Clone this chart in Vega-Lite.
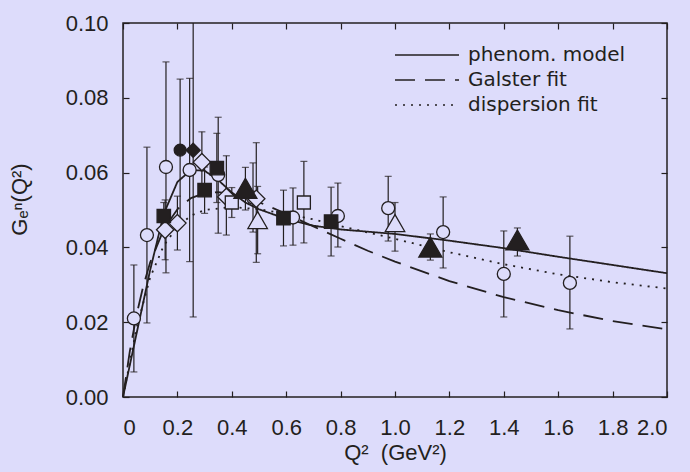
{
  "$schema": "https://vega.github.io/schema/vega-lite/v6.json",
  "width": 544,
  "height": 374,
  "autosize": "none",
  "padding": {"left": 123, "top": 23, "right": 23, "bottom": 75},
  "background": "#dddcfb",
  "config": {
    "view": {"stroke": "#231f20", "strokeWidth": 1.5, "fill": "#dddcfb"},
    "axis": {
      "domain": false,
      "grid": false,
      "tickColor": "#231f20",
      "tickWidth": 1.2,
      "tickSize": -6,
      "labelFont": "Liberation Sans",
      "labelFontSize": 22,
      "labelColor": "#231f20",
      "titleFont": "Liberation Sans",
      "titleFontSize": 22,
      "titleFontWeight": "normal",
      "titleColor": "#231f20"
    }
  },
  "datasets": {
    "curves": [
      {"q2": 0, "g": 0, "s": "phenom. model"},
      {"q2": 0.05, "g": 0.017, "s": "phenom. model"},
      {"q2": 0.1, "g": 0.034, "s": "phenom. model"},
      {"q2": 0.15, "g": 0.049, "s": "phenom. model"},
      {"q2": 0.2, "g": 0.0575, "s": "phenom. model"},
      {"q2": 0.25, "g": 0.0607, "s": "phenom. model"},
      {"q2": 0.3, "g": 0.0605, "s": "phenom. model"},
      {"q2": 0.35, "g": 0.058, "s": "phenom. model"},
      {"q2": 0.4, "g": 0.0547, "s": "phenom. model"},
      {"q2": 0.45, "g": 0.052, "s": "phenom. model"},
      {"q2": 0.5, "g": 0.0502, "s": "phenom. model"},
      {"q2": 0.6, "g": 0.0476, "s": "phenom. model"},
      {"q2": 0.7, "g": 0.0458, "s": "phenom. model"},
      {"q2": 0.8, "g": 0.0448, "s": "phenom. model"},
      {"q2": 0.9, "g": 0.0442, "s": "phenom. model"},
      {"q2": 1.0, "g": 0.0436, "s": "phenom. model"},
      {"q2": 1.2, "g": 0.0418, "s": "phenom. model"},
      {"q2": 1.4, "g": 0.0398, "s": "phenom. model"},
      {"q2": 1.6, "g": 0.0375, "s": "phenom. model"},
      {"q2": 1.8, "g": 0.0353, "s": "phenom. model"},
      {"q2": 2.0, "g": 0.0331, "s": "phenom. model"},
      {"q2": 0, "g": 0, "s": "Galster fit"},
      {"q2": 0.025, "g": 0.0122, "s": "Galster fit"},
      {"q2": 0.05, "g": 0.022, "s": "Galster fit"},
      {"q2": 0.075, "g": 0.0298, "s": "Galster fit"},
      {"q2": 0.1, "g": 0.036, "s": "Galster fit"},
      {"q2": 0.15, "g": 0.0449, "s": "Galster fit"},
      {"q2": 0.2, "g": 0.0502, "s": "Galster fit"},
      {"q2": 0.25, "g": 0.0532, "s": "Galster fit"},
      {"q2": 0.3, "g": 0.0545, "s": "Galster fit"},
      {"q2": 0.35, "g": 0.0548, "s": "Galster fit"},
      {"q2": 0.4, "g": 0.0543, "s": "Galster fit"},
      {"q2": 0.5, "g": 0.0521, "s": "Galster fit"},
      {"q2": 0.6, "g": 0.049, "s": "Galster fit"},
      {"q2": 0.7, "g": 0.0456, "s": "Galster fit"},
      {"q2": 0.8, "g": 0.0423, "s": "Galster fit"},
      {"q2": 0.9, "g": 0.0391, "s": "Galster fit"},
      {"q2": 1.0, "g": 0.0362, "s": "Galster fit"},
      {"q2": 1.2, "g": 0.031, "s": "Galster fit"},
      {"q2": 1.4, "g": 0.0267, "s": "Galster fit"},
      {"q2": 1.6, "g": 0.0232, "s": "Galster fit"},
      {"q2": 1.8, "g": 0.0203, "s": "Galster fit"},
      {"q2": 2.0, "g": 0.0181, "s": "Galster fit"},
      {"q2": 0, "g": 0, "s": "dispersion fit"},
      {"q2": 0.05, "g": 0.0185, "s": "dispersion fit"},
      {"q2": 0.1, "g": 0.032, "s": "dispersion fit"},
      {"q2": 0.15, "g": 0.0405, "s": "dispersion fit"},
      {"q2": 0.2, "g": 0.0455, "s": "dispersion fit"},
      {"q2": 0.25, "g": 0.0485, "s": "dispersion fit"},
      {"q2": 0.3, "g": 0.0500, "s": "dispersion fit"},
      {"q2": 0.4, "g": 0.0508, "s": "dispersion fit"},
      {"q2": 0.5, "g": 0.0502, "s": "dispersion fit"},
      {"q2": 0.6, "g": 0.049, "s": "dispersion fit"},
      {"q2": 0.7, "g": 0.0475, "s": "dispersion fit"},
      {"q2": 0.8, "g": 0.0457, "s": "dispersion fit"},
      {"q2": 1.0, "g": 0.0423, "s": "dispersion fit"},
      {"q2": 1.2, "g": 0.0387, "s": "dispersion fit"},
      {"q2": 1.4, "g": 0.0355, "s": "dispersion fit"},
      {"q2": 1.6, "g": 0.0328, "s": "dispersion fit"},
      {"q2": 1.8, "g": 0.0307, "s": "dispersion fit"},
      {"q2": 2.0, "g": 0.029, "s": "dispersion fit"}
    ],
    "points": [
      {"q2": 0.04, "g": 0.021, "lo": 0.0067, "hi": 0.0353, "m": "oc"},
      {"q2": 0.088, "g": 0.0433, "lo": 0.0198, "hi": 0.0668, "m": "oc"},
      {"q2": 0.158, "g": 0.0615, "lo": 0.0332, "hi": 0.0896, "m": "oc"},
      {"q2": 0.245, "g": 0.0607, "lo": 0.0362, "hi": 0.0852, "m": "oc"},
      {"q2": 0.35, "g": 0.0594, "lo": 0.0438, "hi": 0.0748, "m": "oc"},
      {"q2": 0.478, "g": 0.0533, "lo": 0.0441, "hi": 0.0626, "m": "oc"},
      {"q2": 0.625, "g": 0.048, "lo": 0.0406, "hi": 0.0559, "m": "oc"},
      {"q2": 0.79, "g": 0.0484, "lo": 0.0401, "hi": 0.0572, "m": "oc"},
      {"q2": 0.975, "g": 0.0505, "lo": 0.0417, "hi": 0.059, "m": "oc"},
      {"q2": 1.177, "g": 0.0441, "lo": 0.0345, "hi": 0.0535, "m": "oc"},
      {"q2": 1.40, "g": 0.0329, "lo": 0.0214, "hi": 0.0444, "m": "oc"},
      {"q2": 1.643, "g": 0.0305, "lo": 0.0182, "hi": 0.043, "m": "oc"},
      {"q2": 0.155, "g": 0.0447, "lo": 0.0367, "hi": 0.0527, "m": "od"},
      {"q2": 0.2, "g": 0.0465, "lo": 0.0393, "hi": 0.0537, "m": "od"},
      {"q2": 0.29, "g": 0.0628, "lo": 0.0547, "hi": 0.0709, "m": "od"},
      {"q2": 0.38, "g": 0.0535, "lo": 0.0433, "hi": 0.0645, "m": "od"},
      {"q2": 0.49, "g": 0.053, "lo": 0.036, "hi": 0.068, "m": "od"},
      {"q2": 0.21, "g": 0.066, "lo": 0.047, "hi": 0.085, "m": "fc"},
      {"q2": 0.258, "g": 0.066, "lo": 0.0214, "hi": 0.1106, "m": "fd"},
      {"q2": 0.15, "g": 0.0484, "lo": 0.0448, "hi": 0.052, "m": "fs"},
      {"q2": 0.30, "g": 0.0553, "lo": 0.0491, "hi": 0.0615, "m": "fs"},
      {"q2": 0.345, "g": 0.0612, "lo": 0.052, "hi": 0.0705, "m": "fs"},
      {"q2": 0.59, "g": 0.0478, "lo": 0.0404, "hi": 0.0553, "m": "fs"},
      {"q2": 0.765, "g": 0.0469, "lo": 0.0377, "hi": 0.0561, "m": "fs"},
      {"q2": 0.40, "g": 0.052, "lo": 0.048, "hi": 0.056, "m": "os"},
      {"q2": 0.665, "g": 0.052, "lo": 0.0412, "hi": 0.063, "m": "os"},
      {"q2": 0.495, "g": 0.0473, "lo": 0.0383, "hi": 0.0563, "m": "ot"},
      {"q2": 1.0, "g": 0.0465, "lo": 0.039, "hi": 0.052, "m": "ot"},
      {"q2": 0.45, "g": 0.0558, "lo": 0.050, "hi": 0.0614, "m": "ft"},
      {"q2": 1.13, "g": 0.0401, "lo": 0.0366, "hi": 0.0436, "m": "ft"},
      {"q2": 1.45, "g": 0.042, "lo": 0.0377, "hi": 0.0452, "m": "ft"}
    ]
  },
  "resolve": {"axis": {"x": "independent", "y": "independent"}},
  "layer": [
    {
      "data": {"name": "points"},
      "mark": {"type": "rule", "color": "#231f20", "strokeWidth": 1.2, "clip": true},
      "encoding": {
        "x": {"field": "q2", "type": "quantitative", "axis": null},
        "y": {"field": "lo", "type": "quantitative", "axis": null},
        "y2": {"field": "hi"}
      }
    },
    {
      "data": {"name": "points"},
      "mark": {"type": "tick", "color": "#231f20", "thickness": 1.2, "size": 7, "orient": "horizontal", "clip": true},
      "encoding": {
        "x": {"field": "q2", "type": "quantitative", "axis": null},
        "y": {"field": "lo", "type": "quantitative", "axis": null}
      }
    },
    {
      "data": {"name": "points"},
      "mark": {"type": "tick", "color": "#231f20", "thickness": 1.2, "size": 7, "orient": "horizontal", "clip": true},
      "encoding": {
        "x": {"field": "q2", "type": "quantitative", "axis": null},
        "y": {"field": "hi", "type": "quantitative", "axis": null}
      }
    },
    {
      "data": {"name": "curves"},
      "mark": {"type": "line", "color": "#231f20", "strokeWidth": 1.8},
      "encoding": {
        "x": {
          "field": "q2", "type": "quantitative",
          "scale": {"domain": [0, 2], "nice": false, "zero": false},
          "axis": {
            "orient": "bottom",
            "values": [0, 0.2, 0.4, 0.6, 0.8, 1.0, 1.2, 1.4, 1.6, 1.8, 2.0],
            "labelExpr": "datum.value == 0 ? '0' : format(datum.value, '.1f')",
            "labelPadding": 26,
            "title": "Q²\u00a0\u00a0(GeV²)",
            "titlePadding": 4
          }
        },
        "y": {
          "field": "g", "type": "quantitative",
          "scale": {"domain": [0, 0.1], "nice": false, "zero": false},
          "axis": {
            "orient": "left",
            "values": [0, 0.02, 0.04, 0.06, 0.08, 0.1],
            "format": ".2f",
            "labelPadding": 21,
            "title": "Gₑⁿ(Q²)",
            "titlePadding": 34,
            "titleY": 176
          }
        },
        "strokeDash": {
          "field": "s", "type": "nominal",
          "scale": {
            "domain": ["phenom. model", "Galster fit", "dispersion fit"],
            "range": [[1, 0], [20, 10], [2, 6]]
          },
          "legend": {
            "orient": "none",
            "legendX": 294,
            "legendY": 22,
            "title": null,
            "symbolType": "M-6.4,0H6.4",
            "symbolSize": 100,
            "symbolStrokeColor": "#231f20",
            "symbolStrokeWidth": 1.5,
            "labelFont": "DejaVu Sans",
            "labelFontSize": 20,
            "labelColor": "#231f20",
            "labelOffset": 31,
            "rowPadding": 5
          }
        }
      }
    },
    {
      "data": {"name": "points"},
      "mark": {"type": "point", "filled": true, "stroke": "#231f20", "strokeWidth": 1.3, "opacity": 1},
      "encoding": {
        "x": {"field": "q2", "type": "quantitative", "axis": null},
        "y": {"field": "g", "type": "quantitative", "axis": null},
        "shape": {
          "field": "m", "type": "nominal", "legend": null,
          "scale": {
            "domain": ["oc", "fc", "os", "fs", "od", "fd", "ot", "ft"],
            "range": ["circle", "circle", "square", "square", "diamond", "diamond", "triangle-up", "triangle-up"]
          }
        },
        "fill": {
          "field": "m", "type": "nominal", "legend": null,
          "scale": {
            "domain": ["oc", "fc", "os", "fs", "od", "fd", "ot", "ft"],
            "range": ["#dddcfb", "#231f20", "#dddcfb", "#231f20", "#dddcfb", "#231f20", "#dddcfb", "#231f20"]
          }
        },
        "size": {
          "field": "m", "type": "nominal", "legend": null,
          "scale": {
            "type": "ordinal",
            "domain": ["oc", "fc", "os", "fs", "od", "fd", "ot", "ft"],
            "range": [169, 140, 169, 180, 300, 200, 380, 530]
          }
        }
      }
    },
    {
      "data": {"name": "curves"},
      "mark": {"type": "rule", "opacity": 0},
      "encoding": {
        "x": {
          "field": "q2", "type": "quantitative",
          "axis": {"orient": "top", "values": [0, 0.2, 0.4, 0.6, 0.8, 1.0, 1.2, 1.4, 1.6, 1.8, 2.0], "labels": false, "title": null}
        },
        "y": {
          "field": "g", "type": "quantitative",
          "axis": {"orient": "right", "values": [0, 0.02, 0.04, 0.06, 0.08, 0.1], "labels": false, "title": null}
        }
      }
    }
  ]
}
